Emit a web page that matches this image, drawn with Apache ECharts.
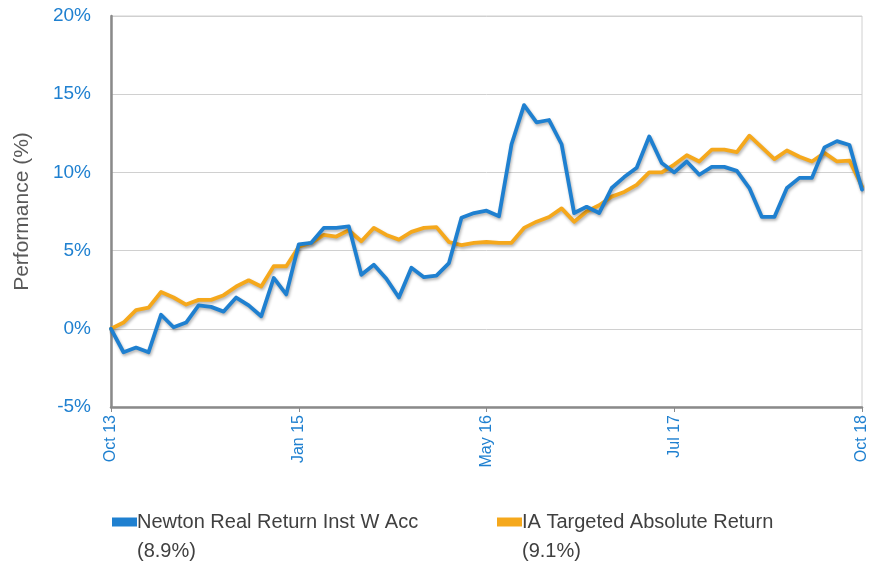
<!DOCTYPE html>
<html>
<head>
<meta charset="utf-8">
<script src="https://cdn.jsdelivr.net/npm/echarts@6/dist/echarts.min.js"></script>
<style>
  html, body { margin: 0; padding: 0; background: #fff; }
  #chart { width: 879px; height: 569px; }
</style>
</head>
<body>
<div id="chart"></div>
<script>
// monthly points, Oct 13 .. Oct 18
const tickLabels = ['Oct 13', 'Jan 15', 'May 16', 'Jul 17', 'Oct 18'];
const seriesNames = ['Newton Real Return Inst W Acc', 'IA Targeted Absolute Return'];
const finalReturns = ['(8.9%)', '(9.1%)'];
const newtonValues = [0, -1.5, -1.2, -1.5, 0.9, 0.1, 0.4, 1.5, 1.4, 1.1, 2.0, 1.5, 0.8, 3.25, 2.2,
  5.4, 5.5, 6.45, 6.45, 6.55, 3.45, 4.1, 3.2, 2.0, 3.9, 3.3, 3.4, 4.2, 7.1, 7.4,
  7.55, 7.2, 11.8, 14.3, 13.2, 13.35, 11.8, 7.4, 7.8, 7.4, 9.0, 9.7, 10.3, 12.3, 10.6,
  10.0, 10.7, 9.85, 10.35, 10.35, 10.1, 9.0, 7.15, 7.15, 9.0, 9.65, 9.65, 11.6, 12.0, 11.75,
  8.9];
const sectorValues = [0, 0.4, 1.2, 1.35, 2.35, 2.0, 1.55, 1.85, 1.85, 2.15, 2.7, 3.1, 2.7, 4.0, 4.0,
  5.25, 5.5, 6.0, 5.9, 6.3, 5.6, 6.45, 6.0, 5.7, 6.2, 6.45, 6.5, 5.55, 5.35, 5.5,
  5.55, 5.5, 5.5, 6.45, 6.85, 7.15, 7.7, 6.85, 7.5, 7.9, 8.45, 8.75, 9.2, 10.0, 10.0,
  10.5, 11.1, 10.7, 11.45, 11.45, 11.3, 12.35, 11.6, 10.85, 11.4, 11.0, 10.7, 11.25, 10.7, 10.75,
  9.1];

const blue = '#1f80d0';
const orange = '#f5a81c';
const font = 'Liberation Sans, Arial, sans-serif';
const legendX = [112, 497];

let chart = echarts.init(document.getElementById('chart'));

function toPoints(arr) {
  return arr.map((v, i) => [i, v]);
}

function lineSeries(name, values, color, z) {
  return {
    name: name,
    type: 'line',
    data: toPoints(values),
    symbol: 'none',
    z: z,
    itemStyle: { color: color },
    lineStyle: {
      color: color,
      width: 3.8,
      join: 'round',
      cap: 'round',
      shadowColor: 'rgba(0,0,0,0.3)',
      shadowBlur: 3,
      shadowOffsetX: 1,
      shadowOffsetY: 2
    }
  };
}

let option = {
  animation: false,
  backgroundColor: '#fff',
  grid: {
    left: 111, right: 17, top: 16, bottom: 162,
    show: true, borderColor: '#d0d0d0', borderWidth: 1
  },
  legend: seriesNames.map((n, i) => ({
    left: legendX[i], top: 512,
    padding: 0,
    itemWidth: 25, itemHeight: 9,
    icon: 'rect',
    textStyle: { fontFamily: font, fontSize: 20, color: '#404040', padding: [0, 0, 0, -5] },
    data: [n]
  })),
  graphic: finalReturns.map((t, i) => ({
    type: 'text',
    left: legendX[i] + 25,
    top: 541,
    style: { text: t, fontFamily: font, fontSize: 20, fill: '#404040' }
  })),
  xAxis: {
    type: 'value',
    min: 0, max: 60, interval: 15,
    axisLine: { show: true, onZero: false, lineStyle: { color: '#8a8a8a', width: 2.5 } },
    axisTick: { show: true, length: 5, lineStyle: { color: '#8a8a8a' } },
    splitLine: { show: false },
    axisLabel: {
      rotate: 90,
      margin: 8,
      fontFamily: font,
      fontSize: 16,
      color: blue,
      formatter: v => tickLabels[v / 15]
    }
  },
  yAxis: {
    type: 'value',
    min: -5, max: 20, interval: 5,
    name: 'Performance (%)',
    nameLocation: 'middle',
    nameGap: 78,
    nameTextStyle: { fontFamily: font, fontSize: 21, color: '#595959' },
    axisLine: { show: true, onZero: false, lineStyle: { color: '#8a8a8a', width: 2.5 } },
    axisTick: { show: false },
    splitLine: { lineStyle: { color: '#d0d0d0', width: 1 } },
    axisLabel: {
      margin: 20,
      fontFamily: font,
      fontSize: 19,
      color: blue,
      formatter: '{value}%'
    }
  },
  series: [
    lineSeries(seriesNames[1], sectorValues, orange, 2),
    lineSeries(seriesNames[0], newtonValues, blue, 3)
  ]
};

chart.setOption(option);
</script>
</body>
</html>
